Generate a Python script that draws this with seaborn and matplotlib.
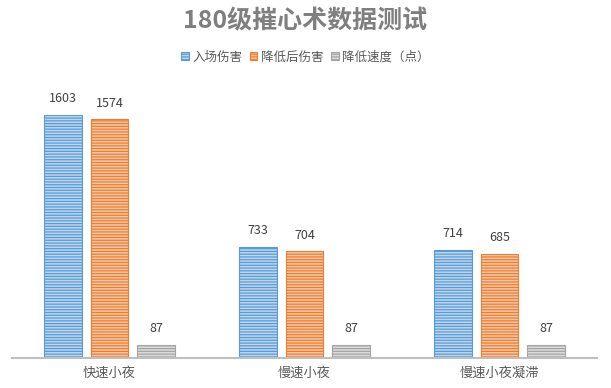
import matplotlib
matplotlib.use("Agg")
import matplotlib.pyplot as plt
import seaborn as sns
import pandas as pd

categories = ["快速小夜", "慢速小夜", "慢速小夜凝滞"]
series_names = ["入场伤害", "降低后伤害", "降低速度（点）"]
entry_damage = [1603, 733, 714]
reduced_damage = [1574, 704, 685]
reduced_speed = [87, 87, 87]
title = "180级摧心术数据测试"

colors = ["#5B9BD5", "#ED7D31", "#A5A5A5"]
light = ["#BCD6EE", "#F8C8A6", "#DCDCDC"]

rows = []
for s, vals in zip(series_names, [entry_damage, reduced_damage, reduced_speed]):
    for c, v in zip(categories, vals):
        rows.append({"cat": c, "series": s, "value": v})
df = pd.DataFrame(rows)

sns.set_theme(style="white")
plt.rcParams["font.family"] = ["Noto Sans CJK SC", "DejaVu Sans"]
plt.rcParams["hatch.linewidth"] = 0.9

fig = plt.figure(figsize=(6.11, 3.88), dpi=100)
ax = fig.add_axes([12/611, 30/388, 585/611, 273/388])

sns.barplot(data=df, x="cat", y="value", hue="series", order=categories,
            hue_order=series_names, palette=colors, width=0.72, gap=0.19,
            ax=ax, legend=False, errorbar=None)

for i, cont in enumerate(ax.containers):
    for p in cont.patches:
        p.set_facecolor(light[i])
        p.set_edgecolor(colors[i])
        p.set_hatch("------")
        p.set_linewidth(0.8)
    ax.bar_label(cont, labels=[str(int(v)) for v in cont.datavalues],
                 padding=7, fontsize=9, color="#404040")

ax.set_ylim(0, 1800)
ax.set_xlim(-0.5, 2.5)
ax.set_xlabel("")
ax.set_ylabel("")
ax.set_yticks([])
for s in ["top", "right", "left"]:
    ax.spines[s].set_visible(False)
ax.spines["bottom"].set_color("#BFBFBF")
ax.spines["bottom"].set_linewidth(1.5)
ax.tick_params(axis="x", length=0, pad=6, labelsize=9.5, labelcolor="#595959")

# legend
from matplotlib.patches import Patch
handles = [Patch(facecolor=light[i], edgecolor=colors[i], hatch="------",
                 linewidth=0.8, label=series_names[i]) for i in range(3)]
fig.legend(handles=handles, loc="center", bbox_to_anchor=(0.5, 1 - 57/388),
           ncol=3, frameon=False, fontsize=9, labelcolor="#595959",
           handlelength=0.6, handleheight=0.6, handletextpad=0.3,
           columnspacing=0.6)

fig.text(0.5, 1 - 21/388, title, ha="center", va="center", fontsize=18,
         fontweight="bold", color="#7F7F7F")

fig.savefig("out.png", dpi=100)
